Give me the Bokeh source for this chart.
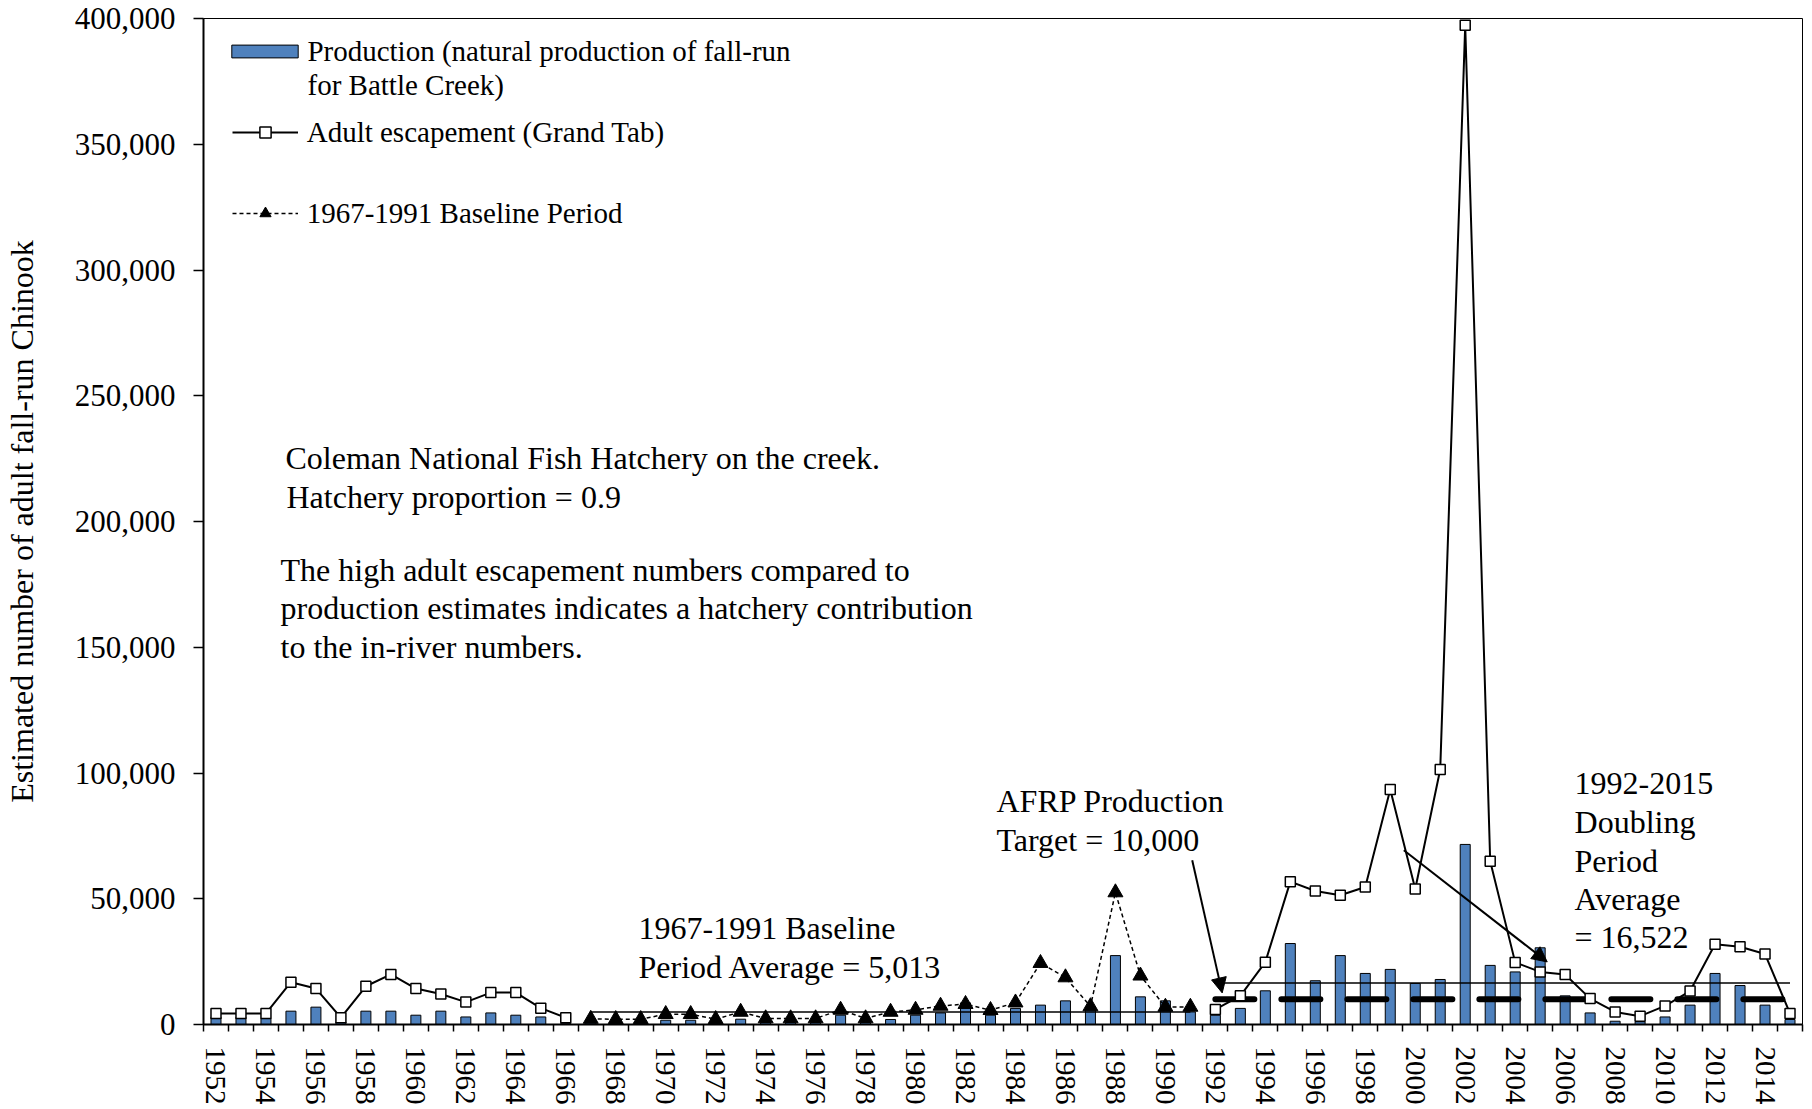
import math
from bokeh.plotting import figure
from bokeh.models import (Range1d, FixedTicker, NumeralTickFormatter, Label, Arrow,
                          NormalHead, Legend, LegendItem)
from bokeh.embed import file_html
from bokeh.resources import INLINE

# ---------------- data ----------------
years = list(range(1952, 2016))
production = [2900, 2900, 2400, 5300, 6900, 1000, 5300, 5300, 3700, 5300,
              3000, 4600, 3700, 3000, 500,
              1000, 800, 800, 1700, 1700, 800, 2100, 800, 800, 800,
              3700, 800, 2000, 3700, 4600, 8600, 3700, 6400, 7700, 9400,
              7000, 27400, 11000, 9400, 5000,
              3700, 6400, 13400, 32200, 17400, 27400, 20300, 21900, 16300, 17900,
              71600, 23500, 20900, 30500, 11400, 4600, 1300, 1100, 3000, 7700,
              20300, 15500, 7700, 2000]
escapement = [4400, 4400, 4400, 16800, 14300, 2700, 15200, 19900, 14300, 12100,
              8900, 12700, 12700, 6500, 2700] + [None] * 25 + \
             [6000, 11400, 24800, 56800, 53100, 51400, 54700, 93400, 53900, 101400,
              397300, 64900, 24700, 20900, 19900, 10300, 5000, 3300, 7400, 13300,
              31900, 30900, 28000, 4400]
baseline_years = list(range(1967, 1992))
baseline_escapement = [2200, 2100, 2100, 4100, 4100, 2100, 5000, 2400, 2400, 2400,
                       5800, 2400, 5000, 5800, 7400, 8100, 5700, 8700, 24400, 18700,
                       7200, 52500, 19400, 7000, 7000]
baseline_avg = 5013
baseline_span = [1967, 1991]
doubling_avg = 16522
doubling_span = [1992, 2015]
afrp_target = 10000
even_year_ticks = list(range(1952, 2016, 2))
y_ticks = list(range(0, 400001, 50000))

FONT = "Liberation Serif"
esc = [float("nan") if v is None else v for v in escapement]

# ---------------- figure ----------------
p = figure(frame_width=1599, frame_height=1006,
           x_range=Range1d(1951.5, 2015.5), y_range=Range1d(0, 400000),
           output_backend="svg", toolbar_location=None,
           min_border_left=203, min_border_right=6, min_border_top=18,
           min_border_bottom=82, background_fill_color="white",
           border_fill_color="white")
p.xgrid.visible = False
p.ygrid.visible = False
p.outline_line_color = "black"
p.outline_line_width = 1

bars = p.vbar(x=years, top=production, bottom=0, width=0.4,
              fill_color="#4F81BD", line_color="black", line_width=1)

p.line(x=baseline_span, y=[baseline_avg] * 2, line_color="black", line_width=1.5)
p.line(x=doubling_span, y=[doubling_avg] * 2, line_color="black", line_width=1.5)
p.line(x=doubling_span, y=[afrp_target] * 2, line_color="black", line_width=6,
       line_dash="39 27", line_cap="round")

base_line = p.line(x=baseline_years, y=baseline_escapement, line_color="black",
                   line_width=1.5, line_dash="4 3")
base_pts = p.scatter(x=baseline_years, y=baseline_escapement, marker="triangle",
                     size=15, fill_color="black", line_color="black")

esc_line = p.line(x=years, y=esc, line_color="black", line_width=2)
esc_pts = p.scatter(x=years, y=esc, marker="square", size=10, fill_color="white",
                    line_color="black", line_width=1.5)

# ---------------- axes ----------------
xa = p.xaxis[0]
xa.ticker = FixedTicker(ticks=even_year_ticks,
                        minor_ticks=[y - 0.5 for y in years] + [years[-1] + 0.5])
xa.major_tick_out = 0
xa.major_tick_in = 0
xa.minor_tick_out = 7
xa.minor_tick_in = 0
xa.minor_tick_line_color = "black"
xa.minor_tick_line_width = 1.5
xa.major_label_orientation = "vertical"
xa.major_label_text_font = FONT
xa.major_label_text_font_size = "29px"
xa.major_label_text_color = "black"
xa.major_label_standoff = 15
xa.axis_line_width = 2
xa.axis_line_color = "black"

ya = p.yaxis[0]
ya.ticker = FixedTicker(ticks=y_ticks)
ya.formatter = NumeralTickFormatter(format="0,0")
ya.major_tick_out = 10
ya.major_tick_in = 0
ya.major_tick_line_color = "black"
ya.major_tick_line_width = 1.5
ya.minor_tick_line_color = None
ya.major_label_text_font = FONT
ya.major_label_text_font_size = "31px"
ya.major_label_text_color = "black"
ya.major_label_standoff = 18
ya.axis_line_width = 2
ya.axis_line_color = "black"
ya.axis_label = "Estimated number of adult fall-run Chinook"
ya.axis_label_text_font = FONT
ya.axis_label_text_font_size = "32px"
ya.axis_label_text_font_style = "normal"
ya.axis_label_text_color = "black"
ya.axis_label_standoff = 32

# ---------------- annotations ----------------
def px2data(xf, yf):
    return 1951.5 + (xf - 203) / 24.984, (1024.3 - yf) * 397.6

texts = [
    (285, 458, "Coleman National Fish Hatchery on the creek."),
    (286, 497, "Hatchery proportion = 0.9"),
    (280, 570, "The high adult escapement numbers compared to"),
    (280, 608, "production estimates indicates a hatchery contribution"),
    (280, 647, "to the in-river numbers."),
    (638, 928, "1967-1991 Baseline"),
    (638, 967, "Period Average = 5,013"),
    (996, 801, "AFRP Production"),
    (996, 840, "Target = 10,000"),
    (1574, 783, "1992-2015"),
    (1574, 822, "Doubling"),
    (1574, 861, "Period"),
    (1574, 899, "Average"),
    (1574, 937, "= 16,522"),
]
for xf, yf, t in texts:
    x, y = px2data(xf, yf)
    p.add_layout(Label(x=x, y=y, text=t, text_font=FONT, text_font_size="32px",
                       text_color="black", text_baseline="middle", text_align="left"))

for (x0, y0), (x1, y1) in [((1191.7, 860), (1221.7, 992.7)),
                           ((1403.3, 850), (1546.7, 961.7))]:
    xs, ys = px2data(x0, y0)
    xe, ye = px2data(x1, y1)
    p.add_layout(Arrow(end=NormalHead(size=15, fill_color="black", line_color="black"),
                       x_start=xs, y_start=ys, x_end=xe, y_end=ye,
                       line_color="black", line_width=2))

# ---------------- legends ----------------
def mk_legend(items, loc, gw, gh, lh, standoff):
    lg = Legend(items=items, location=loc, orientation="vertical", padding=0, margin=0,
                spacing=0, border_line_color=None, background_fill_alpha=0,
                glyph_width=gw, glyph_height=gh, label_height=lh,
                label_standoff=standoff, label_text_font=FONT,
                label_text_font_size="29px", label_text_color="black")
    p.add_layout(lg)

mk_legend([LegendItem(label="Production (natural production of fall-run",
                      renderers=[bars])], (20.4, 956.3), 83, 16, 33, 1)
lx, ly = px2data(307, 85)
p.add_layout(Label(x=lx, y=ly, text="for Battle Creek)", text_font=FONT,
                   text_font_size="29px", text_color="black",
                   text_baseline="middle", text_align="left"))
mk_legend([LegendItem(label="Adult escapement (Grand Tab)",
                      renderers=[esc_line, esc_pts])], (28.7, 875.2), 66, 28, 28, 9)
mk_legend([LegendItem(label="1967-1991 Baseline Period",
                      renderers=[base_line, base_pts])], (28.7, 794.2), 66, 28, 28, 9)

open("out.html", "w").write(file_html(p, INLINE, "chart"))
